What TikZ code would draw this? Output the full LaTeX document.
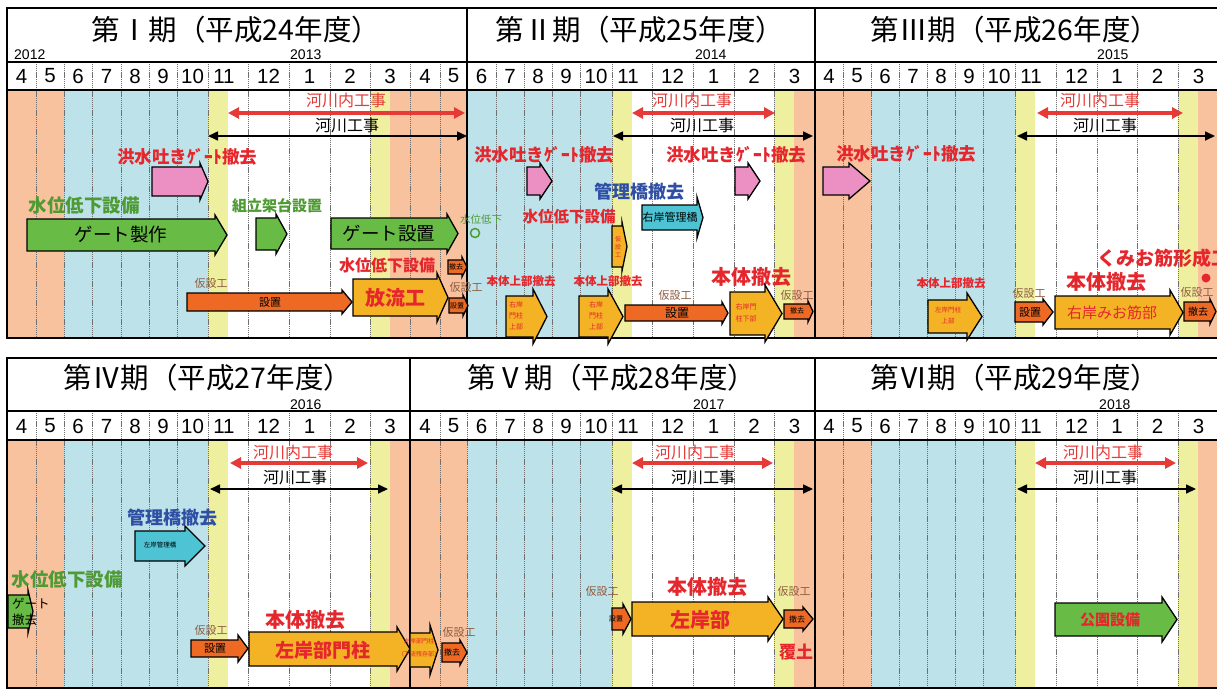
\documentclass[tikz,border=0pt]{standalone}
\usepackage{fontspec}
\newfontfamily\jp{Noto Sans CJK JP}
\newfontfamily\lsans{Liberation Sans}
\usetikzlibrary{arrows.meta}
\definecolor{cor}{HTML}{F9C29E}
\definecolor{cbl}{HTML}{BDE2EA}
\definecolor{cye}{HTML}{EFF09F}
\definecolor{gridc}{HTML}{707070}
\definecolor{tred}{HTML}{E5262C}
\definecolor{lred}{HTML}{E53A36}
\definecolor{tgrn}{HTML}{4E9A33}
\definecolor{tblu}{HTML}{2F4FA5}
\definecolor{tbrn}{HTML}{8E5B3E}
\definecolor{agrn}{HTML}{68BB45}
\definecolor{apnk}{HTML}{EC90C3}
\definecolor{aorg}{HTML}{F4B225}
\definecolor{ared}{HTML}{EE6A24}
\definecolor{atel}{HTML}{4DC3D3}
\newcommand\fsz[1]{\fontsize{#1}{#1}\selectfont}
\newcommand\blockarr[7]{\draw[arrowbox,fill=#1] (#2,#4) -- ({#3-#6},#4) -- ({#3-#6},{#4-#7}) -- (#3,{(#4+#5)/2}) -- ({#3-#6},{#5+#7}) -- ({#3-#6},#5) -- (#2,#5) -- cycle;}
\begin{document}
\begin{tikzpicture}[x=1pt,y=-1pt,
  arrowbox/.style={draw=black,line width=1.3pt,line join=miter},
  gridl/.style={draw=gridc,line width=0.9pt,dash pattern=on 1.2pt off 0.7pt},
  frame/.style={draw=black,line width=1.8pt},
  rb/.style={inner sep=0pt,text=tred,font=\jp\bfseries\fsz{#1}},
  rr/.style={inner sep=0pt,text=tred,font=\jp\fsz{#1}},
  gb/.style={inner sep=0pt,text=tgrn,font=\jp\bfseries\fsz{#1}},
  gr/.style={inner sep=0pt,text=tgrn,font=\jp\fsz{#1}},
  bb/.style={inner sep=0pt,text=tblu,font=\jp\bfseries\fsz{#1}},
  kr/.style={inner sep=0pt,text=tbrn,font=\jp\fsz{#1}},
  dk/.style={inner sep=0pt,text=black,font=\jp\fsz{#1}},
  ttl/.style={inner sep=0pt,text=black,font=\jp\fsz{28.5}},
  mon/.style={inner sep=0pt,text=black,font=\lsans\fsz{20.5}},
  yr/.style={inner sep=0pt,anchor=west,text=black,font=\lsans\fsz{14}},
  redarr/.style={draw=lred,line width=3.5pt,arrows={Triangle[length=11pt,width=11pt]-Triangle[length=11pt,width=11pt]}},
  blkarr/.style={draw=black,line width=1.6pt,arrows={Triangle[length=10pt,width=9pt]-Triangle[length=10pt,width=9pt]}},
  rivl/.style={inner sep=0pt,text=lred,font=\jp\fsz{16}},
  blkl/.style={inner sep=0pt,text=black,font=\jp\fsz{16}}
]
\useasboundingbox (0,0) rectangle (1217,689);
\fill[white] (0,0) rectangle (1217,689);
% column fills
\foreach \ya/\yb in {90/338, 440/688} {
  \fill[cor] (7,\ya) rectangle (64,\yb);
  \fill[cbl] (64,\ya) rectangle (208,\yb);
  \fill[cye] (208,\ya) rectangle (228,\yb);
  \fill[cye] (370,\ya) rectangle (390,\yb);
  \fill[cor] (390,\ya) rectangle (467,\yb);
  \fill[cbl] (467,\ya) rectangle (612,\yb);
  \fill[cye] (612,\ya) rectangle (632,\yb);
  \fill[cye] (774,\ya) rectangle (794,\yb);
  \fill[cor] (794,\ya) rectangle (871,\yb);
  \fill[cbl] (871,\ya) rectangle (1015,\yb);
  \fill[cye] (1015,\ya) rectangle (1035,\yb);
  \fill[cye] (1178,\ya) rectangle (1198,\yb);
  \fill[cor] (1198,\ya) rectangle (1225,\yb);
}
% grid lines
\foreach \x in {36,64,92,121,149,177,208,248,289,330,370,410,440,467,496,524,552,580,612,652,693,734,774,815,843,871,899,927,955,983,1015,1056,1097,1137,1178} {
  \draw[gridl] (\x,62) -- (\x,338);
  \draw[gridl] (\x,411) -- (\x,688);
}
% frames
\draw[frame] (1225,8) -- (7,8) -- (7,338) -- (1225,338);
\draw[frame] (7,62) -- (1225,62);
\draw[frame] (7,90) -- (1225,90);
\draw[frame] (467,8) -- (467,338);
\draw[frame] (815,8) -- (815,338);
\draw[frame] (1225,358) -- (7,358) -- (7,688) -- (1225,688);
\draw[frame] (7,411) -- (1225,411);
\draw[frame] (7,440) -- (1225,440);
\draw[frame] (410,358) -- (410,688);
\draw[frame] (815,358) -- (815,688);
% titles
\node[ttl] (t1) at (236,30) {第Ⅰ期（平成24年度）};
\node[ttl] (t2) at (640,30) {第Ⅱ期（平成25年度）};
\node[ttl] (t3) at (1015,30) {第Ⅲ期（平成26年度）};
\node[ttl] (t4) at (208,378) {第Ⅳ期（平成27年度）};
\node[ttl] (t5) at (612,378) {第Ⅴ期（平成28年度）};
\node[ttl] (t6) at (1015,378) {第Ⅵ期（平成29年度）};
% years
\node[yr] (y12) at (14,55) {2012};
\node[yr] (y13) at (290,55) {2013};
\node[yr] (y14) at (695,55) {2014};
\node[yr] (y15) at (1097,55) {2015};
\node[yr] (y16) at (290,405) {2016};
\node[yr] (y17) at (693,405) {2017};
\node[yr] (y18) at (1099,405) {2018};
% months
\foreach \x/\m [count=\i] in {21.5/4,50/5,78/6,106.5/7,135/8,163/9,192.5/10,224/11,268.5/12,309.5/1,350/2,390/3,425/4,453.5/5,481.5/6,510/7,538/8,566/9,596/10,628/11,672.5/12,713.5/1,754/2,794.5/3,829/4,857/5,885/6,913/7,941/8,969/9,999/10,1031/11,1076.5/12,1117/1,1157.5/2,1198.5/3} {
  \node[mon] (mt\i) at (\x,76) {\m};
  \node[mon] (mb\i) at (\x,426) {\m};
}
% river works arrows
\coordinate (r1a) at (228,113); \coordinate (r1b) at (465,113);
\coordinate (k1a) at (208,136); \coordinate (k1b) at (467,136);
\coordinate (r2a) at (632,113); \coordinate (r2b) at (775,113);
\coordinate (k2a) at (613,136); \coordinate (k2b) at (813,136);
\coordinate (r3a) at (1037,113); \coordinate (r3b) at (1183,113);
\coordinate (k3a) at (1017,136); \coordinate (k3b) at (1215,136);
\coordinate (r4a) at (230,463); \coordinate (r4b) at (368,463);
\coordinate (k4a) at (210,489); \coordinate (k4b) at (388,489);
\coordinate (r5a) at (632,463); \coordinate (r5b) at (773,463);
\coordinate (k5a) at (612,489); \coordinate (k5b) at (813,489);
\coordinate (r6a) at (1035,463); \coordinate (r6b) at (1176,463);
\coordinate (k6a) at (1017,489); \coordinate (k6b) at (1196,489);
\foreach \i in {1,...,6} {
  \draw[redarr] (r\i a) -- (r\i b);
  \draw[blkarr] (k\i a) -- (k\i b);
}
\node[rivl] (rl1) at (346,100) {河川内工事};
\node[blkl] (kl1) at (347,125) {河川工事};
\node[rivl] (rl2) at (692,100) {河川内工事};
\node[blkl] (kl2) at (702,125) {河川工事};
\node[rivl] (rl3) at (1100,100) {河川内工事};
\node[blkl] (kl3) at (1105,125) {河川工事};
\node[rivl] (rl4) at (293,452) {河川内工事};
\node[blkl] (kl4) at (295,477) {河川工事};
\node[rivl] (rl5) at (695,452) {河川内工事};
\node[blkl] (kl5) at (703,477) {河川工事};
\node[rivl] (rl6) at (1103,452) {河川内工事};
\node[blkl] (kl6) at (1105,477) {河川工事};
% ===== Period I =====
\node[rb=17.5] (a1) at (187,157) {洪水吐きｹﾞｰﾄ撤去};
\blockarr{apnk}{152}{208}{167}{196}{8}{4}
\node[gb=18.5] (a2) at (84,206) {水位低下設備};
\blockarr{agrn}{27}{227}{219}{251}{12}{4}
\node[dk=18.5] (a3) at (121,234) {ゲート製作};
\node[gb=15] (a4) at (277,206) {組立架台設置};
\blockarr{agrn}{256}{287}{218}{250}{11}{4}
\blockarr{agrn}{331}{458}{218}{249}{11}{4}
\node[dk=18.5] (a5) at (389,234) {ゲート設置};
\node[rb=16] (a6) at (387,265) {水位低下設備};
\blockarr{aorg}{353}{448}{279}{316}{11}{6}
\node[rb=20] (a7) at (395,298) {放流工};
\node[kr=11] (a8) at (211,283) {仮設工};
\blockarr{ared}{187}{352}{293}{311}{10}{3}
\node[dk=11] (a9) at (270,302) {設置};
\node[gr=10.5] (a10) at (481,220) {水位低下};
\node[circle,draw=tgrn,line width=1.5pt,minimum size=9pt,inner sep=0pt] (a11) at (475,233) {};
\blockarr{ared}{448}{467}{260}{274}{5}{3}
\node[dk=7] (a12) at (456,267) {撤去};
\node[kr=11] (a13) at (466,287) {仮設工};
\blockarr{ared}{449}{468}{298}{313}{5}{3}
\node[dk=7] (a14) at (457,306) {設置};
% ===== Period II =====
\node[rb=17.5] (b1) at (544,155) {洪水吐きｹﾞｰﾄ撤去};
\blockarr{apnk}{527}{552}{167}{195}{12}{4}
\node[rb=17.5] (b2) at (736,155) {洪水吐きｹﾞｰﾄ撤去};
\blockarr{apnk}{735}{760}{167}{195}{12}{4}
\node[bb=18] (b3) at (639,192) {管理橋撤去};
\blockarr{atel}{642}{703}{205}{230}{6}{8}
\node[dk=11] (b4) at (670,217) {右岸管理橋};
\node[rb=15.5] (b5) at (569,217) {水位低下設備};
\blockarr{aorg}{612}{627}{226}{267}{5}{4}
\node[rr=6,align=center,font=\jp\fontsize{6}{8}\selectfont] (b6) at (618,247) {仮\\設\\工};
\node[rb=11.5] (b7) at (521,281) {本体上部撤去};
\node[rb=11.5] (b8) at (608,281) {本体上部撤去};
\blockarr{aorg}{506}{547}{296}{337}{14}{7}
\node[rr=7,align=center,font=\jp\fontsize{7}{11}\selectfont] (b9) at (516,316) {右岸\\門柱\\上部};
\blockarr{aorg}{579}{623}{296}{337}{15}{7}
\node[rr=7,align=center,font=\jp\fontsize{7}{11}\selectfont] (b10) at (596,316) {右岸\\門柱\\上部};
\node[kr=11] (b11) at (675,295) {仮設工};
\blockarr{ared}{625}{728}{305}{321}{6}{3}
\node[dk=12] (b12) at (677,313) {設置};
\node[rb=20] (b13) at (751,277) {本体撤去};
\blockarr{aorg}{730}{782}{292}{335}{17}{7}
\node[rr=7,align=center,font=\jp\fontsize{7}{12}\selectfont] (b14) at (746,313) {右岸門\\柱下部};
\node[kr=11] (b15) at (797,295) {仮設工};
\blockarr{ared}{784}{813}{304}{319}{5}{3}
\node[dk=7] (b16) at (797,311) {撤去};
% ===== Period III =====
\node[rb=17.5] (c1) at (906,154) {洪水吐きｹﾞｰﾄ撤去};
\blockarr{apnk}{823}{870}{167}{195}{21}{4}
\node[rb=11.5] (c2) at (951,283) {本体上部撤去};
\blockarr{aorg}{928}{982}{300}{333}{15}{7}
\node[rr=6.5,align=center,font=\jp\fontsize{6.5}{11}\selectfont] (c3) at (948,316) {左岸門柱\\上部};
\node[kr=11] (c4) at (1029,293) {仮設工};
\blockarr{ared}{1015}{1053}{302}{322}{10}{3}
\node[dk=11] (c5) at (1030,312) {設置};
\node[rb=20] (c6) at (1106,282) {本体撤去};
\node[rb=19,anchor=west] (c7) at (1097,258) {くみお筋形成工};
\node[circle,fill=tred,minimum size=9pt,inner sep=0pt] (c8) at (1206,278) {};
\blockarr{aorg}{1055}{1183}{296}{329}{13}{6}
\node[rr=15] (c9) at (1112,313) {右岸みお筋部};
\node[kr=11] (c10) at (1197,292) {仮設工};
\blockarr{ared}{1184}{1216}{302}{321}{6}{3}
\node[dk=10] (c11) at (1198,312) {撤去};
% ===== Period IV =====
\node[bb=18] (d1) at (172,518) {管理橋撤去};
\blockarr{atel}{135}{205}{531}{561}{20}{5}
\node[dk=6.5] (d2) at (160,545) {左岸管理橋};
\node[gb=18.5] (d3) at (67,580) {水位低下設備};
\blockarr{agrn}{8}{33}{595}{628}{5}{5}
\node[dk=12.5,align=left,anchor=west,font=\jp\fontsize{12.5}{16}\selectfont] (d4) at (12,612) {ゲート\\撤去};
\node[kr=11] (d5) at (211,630) {仮設工};
\blockarr{ared}{191}{248}{640}{657}{10}{5}
\node[dk=11] (d6) at (215,648) {設置};
\node[rb=20] (d7) at (305,620) {本体撤去};
\blockarr{aorg}{249}{410}{632}{666}{13}{5}
\node[rb=19] (d8) at (323,650) {左岸部門柱};
% ===== Period V =====
\blockarr{aorg}{410}{438}{633}{667}{8}{8}
\node[rr=6,align=center,font=\jp\fontsize{6}{13}\selectfont] (e1) at (419,648) {左岸部門柱\\（下流残存部）};
\node[kr=11] (e2) at (459,632) {仮設工};
\blockarr{ared}{442}{467}{643}{662}{7}{3}
\node[dk=8] (e3) at (452,652) {撤去};
\node[kr=11] (e4) at (602,591) {仮設工};
\blockarr{ared}{612}{631}{608}{630}{8}{4}
\node[dk=7] (e5) at (616,619) {設置};
\node[rb=20] (e6) at (707,587) {本体撤去};
\blockarr{aorg}{632}{783}{602}{636}{15}{5}
\node[rb=20] (e7) at (700,620) {左岸部};
\node[kr=11] (e8) at (794,591) {仮設工};
\blockarr{ared}{784}{813}{610}{628}{10}{3}
\node[dk=8] (e9) at (797,619) {撤去};
\node[rb=17] (e10) at (796,652) {覆土};
% ===== Period VI =====
\blockarr{agrn}{1055}{1177}{603}{636}{15}{6}
\node[rb=15] (f1) at (1110,620) {公園設備};
\end{tikzpicture}
\end{document}
